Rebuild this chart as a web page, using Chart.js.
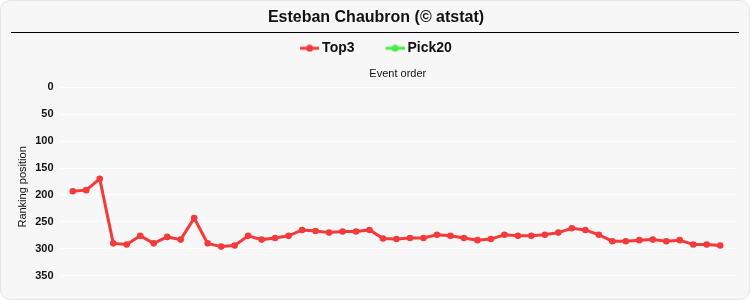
<!DOCTYPE html>
<html>
<head>
<meta charset="utf-8">
<script src="https://cdn.jsdelivr.net/npm/chart.js@4.4.0/dist/chart.umd.min.js"></script>
<style>
html,body{margin:0;padding:0;background:#ffffff;}
#card{position:absolute;left:0;top:0;width:748px;height:298px;background:#f7f7f7;border:1px solid #e4e4e4;border-radius:10px;overflow:hidden;}
#wrap{position:absolute;left:0;top:0;width:748px;height:298px;}
</style>
</head>
<body>
<div id="card"><div id="wrap"><canvas id="c"></canvas></div></div>
<script>
const categories = ["1","2","3","4","5","6","7","8","9","10","11","12","13","14","15","16","17","18","19","20","21","22","23","24","25","26","27","28","29","30","31","32","33","34","35","36","37","38","39","40","41","42","43","44","45","46","47","48","49"];
const top3 = [193,191,170,290,292,276,290,278,283,243,290,296,294,276,283,280,276,265,267,270,268,268,265,281,282,280,280,274,276,280,284,282,274,276,276,274,270,262,265,274,286,286,284,283,286,284,292,292,294];
const pick20 = [];
const yTicks = [0,50,100,150,200,250,300,350];

const RED = '#f43a3a', GREEN = '#44ee44';

// legend marker: line with dot, with transparent left area (spacing between legend items)
function marker(color){
  const c = document.createElement('canvas');
  c.width = 49; c.height = 8;
  const g = c.getContext('2d');
  g.strokeStyle = color; g.lineWidth = 3;
  g.beginPath(); g.moveTo(30,4); g.lineTo(49,4); g.stroke();
  g.fillStyle = color; g.beginPath(); g.arc(39.5,4,3.5,0,Math.PI*2); g.fill();
  return c;
}
const markers = [marker(RED), marker(GREEN)];

const decor = {
  id:'decor',
  afterLayout(chart){
    const lg = chart.legend;
    if (lg && lg.lineWidths && !lg._shifted){ lg.lineWidths[0] += 26; lg._shifted = true; }
  },
  afterDraw(chart){
    const ctx = chart.ctx;
    ctx.save();
    ctx.strokeStyle = '#000';
    ctx.lineWidth = 1;
    ctx.beginPath(); ctx.moveTo(10,31.5); ctx.lineTo(738,31.5); ctx.stroke();
    ctx.restore();
  }
};

Chart.defaults.font.family = '"Liberation Sans", Arial, sans-serif';
new Chart(document.getElementById('c'), {
  type:'line',
  data:{
    labels: categories,
    datasets:[
      {label:'Top3', data: top3.map((v,i)=>({x:i, y:v})), borderColor:RED, backgroundColor:RED, borderWidth:3, pointRadius:3.3, pointBorderWidth:0, pointHoverRadius:4, tension:0},
      {label:'Pick20', data: pick20.map((v,i)=>({x:i, y:v})), borderColor:GREEN, backgroundColor:GREEN, borderWidth:3, pointRadius:3.3, pointBorderWidth:0, tension:0}
    ]
  },
  options:{
    responsive:true, maintainAspectRatio:false, animation:false,
    layout:{padding:{left:15,right:13,bottom:9,top:0}},
    plugins:{
      title:{display:true, text:'Esteban Chaubron (© atstat)', color:'#111', font:{size:16, weight:'bold'}, padding:{top:7,bottom:9}},
      legend:{display:true, labels:{color:'#111', font:{size:14, weight:'bold'}, usePointStyle:true, pointStyleWidth:41, padding:5,
        generateLabels(chart){
          return chart.data.datasets.map((d,i)=>({text:d.label, pointStyle: markers[i], fillStyle:d.borderColor, strokeStyle:d.borderColor, lineWidth:0, datasetIndex:i, hidden:false, fontColor:'#111'}));
        }}},
      tooltip:{enabled:false}
    },
    scales:{
      x:{type:'linear', position:'top', min:-0.98, max:49.17, grid:{display:false}, border:{display:false}, ticks:{display:false},
         title:{display:true, text:'Event order', color:'#111', font:{size:11}, padding:{top:2,bottom:-1}}},
      y:{reverse:true, min:0, max:370, grid:{color:'#ffffff', lineWidth:1, drawTicks:false}, border:{display:false},
         afterBuildTicks(axis){ axis.ticks = yTicks.map(v=>({value:v})); },
         ticks:{color:'#111', font:{size:11, weight:'bold'}, padding:6},
         title:{display:true, text:'Ranking position', color:'#111', font:{size:11}, padding:{top:0,bottom:0}}}
    }
  },
  plugins:[decor]
});
</script>
</body>
</html>
